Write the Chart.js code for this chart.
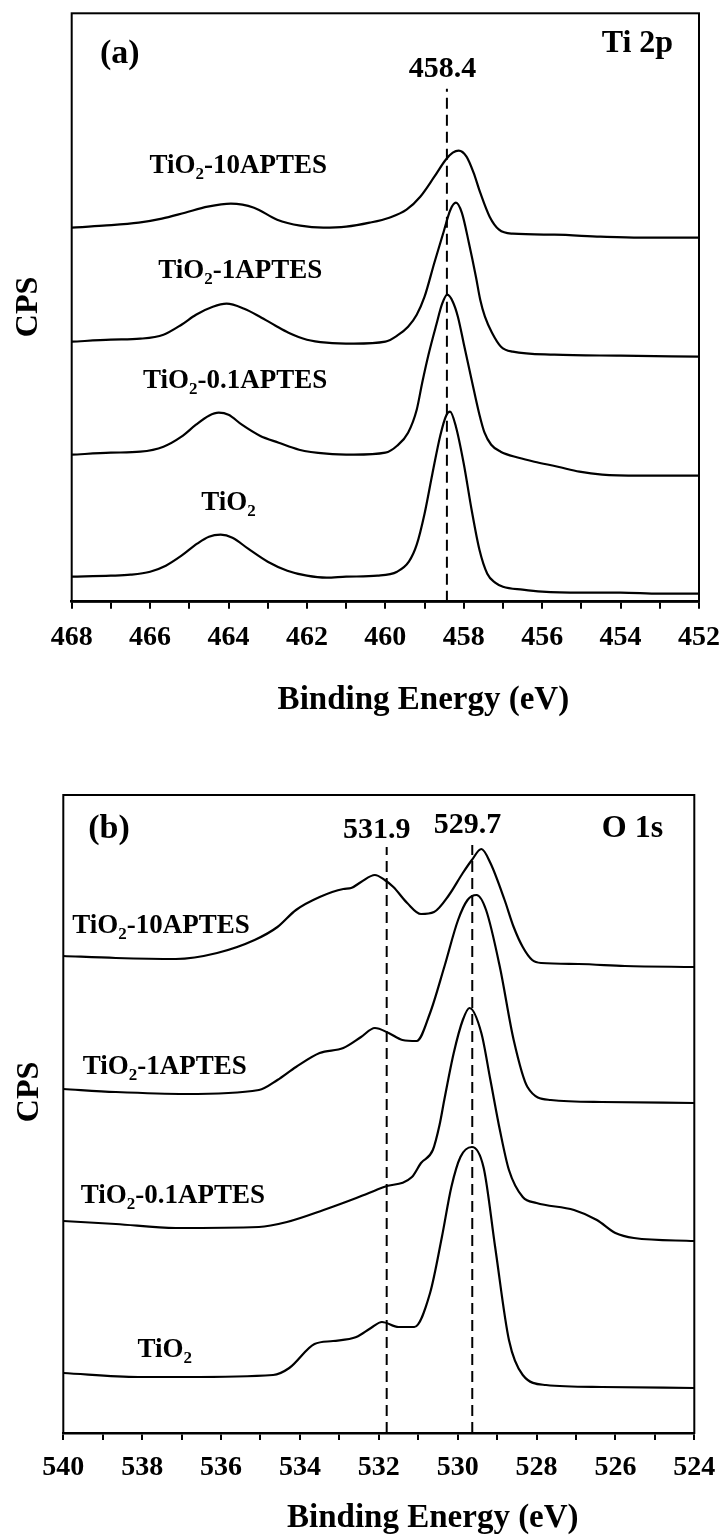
<!DOCTYPE html>
<html><head><meta charset="utf-8">
<script src="https://cdn.jsdelivr.net/npm/chart.js@4.4.0/dist/chart.umd.min.js"></script>
<style>
html,body{margin:0;padding:0;background:#fff;}
#wrapA{position:absolute;left:0;top:0;width:724px;height:740px;}
#wrapB{position:absolute;left:0;top:740px;width:724px;height:799px;}
</style></head><body>
<div id="wrapA"><canvas id="cA"></canvas></div>
<div id="wrapB"><canvas id="cB"></canvas></div>
<script>
// ---------------- DATA: panel (a) Ti 2p ----------------
const seriesNames = ['TiO₂', 'TiO₂-0.1APTES', 'TiO₂-1APTES', 'TiO₂-10APTES'];

const tiA_TiO2_eV  = [468, 467, 466.5, 466.0, 465.6, 465.2, 464.8, 464.5, 464.2, 463.9, 463.5, 463.0, 462.5, 462.0, 461.5, 461.0, 460.2, 459.7, 459.4, 459.2, 459.0, 458.8, 458.6, 458.45, 458.35, 458.2, 458.0, 457.8, 457.6, 457.4, 457.2, 457.0, 456.5, 456.0, 455.0, 454.0, 453.0, 452.0];
const tiA_TiO2_cps = [25, 26, 27, 30, 36, 46, 58, 65, 67, 64, 53, 40, 31, 26, 24, 25, 26, 30, 40, 57, 88, 128, 166, 186, 190, 175, 138, 92, 52, 28, 19, 15, 12, 10, 9, 9, 8, 8];

const tiA_01_eV  = [468, 467, 466.25, 465.66, 465.2, 464.83, 464.5, 464.25, 464.0, 463.66, 463.2, 462.72, 462.2, 461.5, 460.8, 460.0, 459.7, 459.42, 459.2, 459.06, 458.9, 458.7, 458.55, 458.42, 458.28, 458.15, 458.0, 457.8, 457.6, 457.47, 457.3, 457.06, 456.6, 456.2, 455.6, 455.05, 454.47, 453.5, 452];
const tiA_01_cps = [147, 149, 150, 155, 165, 177, 186, 189, 187, 177, 166, 159, 152, 148, 147, 149, 156, 169, 192, 219, 247, 277, 298, 307, 300, 285, 258, 222, 187, 169, 157, 150, 144, 140, 135, 130, 127, 126, 126];

const tiA_1_eV  = [468, 467, 466.25, 465.66, 465.2, 464.83, 464.4, 464.05, 463.6, 463.2, 462.8, 462.47, 462.0, 461.5, 460.8, 460.0, 459.7, 459.42, 459.2, 459.0, 458.75, 458.52, 458.34, 458.2, 458.05, 457.87, 457.69, 457.58, 457.46, 457.28, 457.05, 456.75, 455.69, 454.0, 452];
const tiA_1_cps = [260, 262, 263, 267, 277, 287, 295, 298, 293, 285, 276, 269, 262, 259, 258, 260, 266, 275, 287, 305, 339, 369, 392, 399, 389, 359, 325, 302, 285, 269, 255, 250, 247, 246, 245];

const tiA_10_eV  = [468, 467.2, 466.29, 465.7, 465.11, 464.53, 463.94, 463.35, 462.76, 462.17, 461.58, 461.0, 460.4, 459.9, 459.46, 459.11, 458.75, 458.46, 458.28, 458.13, 457.93, 457.75, 457.58, 457.34, 457.1, 456.75, 455.69, 454.51, 453.5, 452];
const tiA_10_cps = [374, 376, 379, 383, 389, 395, 398, 394, 382, 376, 374, 375, 379, 384, 392, 405, 425, 442, 449, 451, 445, 429, 409, 385, 372, 368, 367, 365, 364, 364];

const peakLinesA  = [458.43];
const peakLabelsA = ['458.4'];

// ---------------- DATA: panel (b) O 1s ----------------
const oB_TiO2_eV  = [540, 538.1, 536.9, 534.68, 534.27, 533.63, 533.16, 532.57, 532.2, 531.92, 531.5, 531.1, 530.7, 530.4, 530.16, 529.93, 529.64, 529.34, 529.05, 528.7, 528.35, 527.76, 526.35, 524];
const oB_TiO2_cps = [60, 56, 56, 58, 65, 89, 92, 96, 105, 111, 106, 106, 140, 196, 246, 276, 286, 265, 186, 93, 58, 48, 46, 45];

const oB_01_eV  = [540, 538.67, 537.15, 535.04, 534.33, 533.4, 532.57, 531.87, 531.16, 530.93, 530.63, 530.46, 530.34, 530.1, 529.87, 529.7, 529.4, 529.17, 528.93, 528.7, 528.35, 528.0, 527.05, 526.47, 526.0, 525.53, 524];
const oB_01_cps = [212, 209, 205, 206, 211, 223, 235, 246, 256, 270, 283, 308, 333, 380, 413, 425, 400, 353, 303, 263, 236, 230, 223, 213, 200, 195, 192];

const oB_1_eV  = [540, 538.67, 536.9, 535.04, 534.57, 534.1, 533.5, 532.9, 532.45, 532.1, 531.75, 531.4, 531.04, 530.7, 530.34, 529.99, 529.75, 529.52, 529.28, 528.93, 528.58, 528.23, 527.64, 526.35, 524];
const oB_1_cps = [344, 341, 339, 343, 353, 366, 380, 385, 396, 405, 400, 393, 392, 420, 466, 513, 533, 538, 523, 466, 393, 346, 333, 331, 330];

const oB_10_eV  = [540, 538.67, 537.15, 536.1, 535.15, 534.57, 534.1, 533.5, 532.9, 532.7, 532.45, 532.1, 531.85, 531.63, 531.28, 530.93, 530.6, 530.22, 529.87, 529.64, 529.4, 529.17, 528.81, 528.58, 528.35, 528.11, 527.88, 526.94, 525.76, 524];
const oB_10_cps = [477, 475, 474, 480, 493, 506, 523, 536, 544, 545, 551, 558, 553, 546, 530, 519, 521, 538, 560, 573, 584, 570, 533, 506, 486, 473, 470, 469, 467, 466];

const peakLinesB  = [531.8, 529.63];
const peakLabelsB = ['531.9', '529.7'];

const xTicksA = {min: 452, max: 468};
const xTicksB = {min: 524, max: 540};

// ---------------- RENDERING ----------------
const FONT = '"Liberation Serif", "Times New Roman", serif';

function toPts(xs, ys) { return xs.map((x, i) => ({x: x, y: ys[i]})); }

function richText(ctx, text, x, y, size, align, rotate) {
  const parts = [];
  const segs = text.split('₂');
  segs.forEach((p, i) => {
    if (p) parts.push({t: p, sub: false});
    if (i < segs.length - 1) parts.push({t: '2', sub: true});
  });
  const subSize = Math.round(size * 0.64);
  let total = 0;
  parts.forEach(p => {
    ctx.font = 'bold ' + (p.sub ? subSize : size) + 'px ' + FONT;
    p.w = ctx.measureText(p.t).width;
    total += p.w;
  });
  ctx.save();
  ctx.translate(x, y);
  if (rotate) ctx.rotate(rotate);
  let cx = align === 'center' ? -total / 2 : (align === 'right' ? -total : 0);
  ctx.textAlign = 'left';
  ctx.textBaseline = 'alphabetic';
  ctx.fillStyle = '#000';
  parts.forEach(p => {
    ctx.font = 'bold ' + (p.sub ? subSize : size) + 'px ' + FONT;
    ctx.fillText(p.t, cx, p.sub ? size * 0.24 : 0);
    cx += p.w;
  });
  ctx.restore();
}

const decoPlugin = {
  id: 'deco',
  afterDraw(chart, args, opts) {
    const ctx = chart.ctx;
    const a = chart.chartArea;
    const xs = chart.scales.x, ys = chart.scales.y;
    ctx.save();
    ctx.strokeStyle = '#000';
    ctx.lineWidth = 2;
    ctx.strokeRect(a.left, a.top, a.right - a.left, a.bottom - a.top);
    (opts.texts || []).forEach(t => {
      richText(ctx, t.text, xs.getPixelForValue(t.x), ys.getPixelForValue(t.v), t.size, t.align);
    });
    if (opts.xTitle) {
      const t = opts.xTitle;
      richText(ctx, t.text, xs.getPixelForValue(t.x), a.bottom + t.offset, t.size, 'center');
    }
    if (opts.yTitle) {
      const t = opts.yTitle;
      richText(ctx, t.text, t.px + t.size * 0.33, ys.getPixelForValue(t.v), t.size, 'center', -Math.PI / 2);
    }
    ctx.restore();
  }
};

function makeChart(id, cfg) {
  const curveSets = cfg.curves.map(c => ({
    data: toPts(c[0], c[1]),
    borderColor: '#000', borderWidth: 2.2, pointRadius: 0,
    cubicInterpolationMode: 'monotone', fill: false
  }));
  const lineSets = cfg.peaks.map((px, i) => ({
    data: [{x: px, y: 0}, {x: px, y: cfg.peakTop[i]}],
    borderColor: '#000', borderWidth: 2, borderDash: [11, 6], pointRadius: 0, tension: 0, fill: false
  }));
  return new Chart(document.getElementById(id), {
    type: 'line',
    data: {datasets: lineSets.concat(curveSets)},
    plugins: [decoPlugin],
    options: {
      responsive: true, maintainAspectRatio: false, animation: false, devicePixelRatio: 1,
      layout: {padding: cfg.padding},
      plugins: {legend: {display: false}, tooltip: {enabled: false}, deco: cfg.deco},
      scales: {
        x: {
          type: 'linear', min: cfg.xr.min, max: cfg.xr.max, reverse: true,
          afterFit: s => { s.height = cfg.axisH; s.paddingLeft = 0; s.paddingRight = 0; },
          ticks: {
            stepSize: 1, autoSkip: false, maxRotation: 0, minRotation: 0, padding: cfg.tickPad,
            color: '#000', font: {family: FONT, size: 28, weight: 'bold'},
            callback: v => (Math.round(v) % 2 === 0 ? String(Math.round(v)) : '')
          },
          grid: {display: true, drawOnChartArea: false, drawTicks: true, tickLength: 7, color: '#000', lineWidth: 2},
          border: {display: true, color: '#000', width: 2.5}
        },
        y: {display: false, min: 0, max: cfg.yMax}
      }
    }
  });
}

makeChart('cA', {
  xr: xTicksA, yMax: 588.4, axisH: 138.3, tickPad: 12,
  padding: {left: 71.7, top: 13.3, right: 25, bottom: 0},
  curves: [[tiA_TiO2_eV, tiA_TiO2_cps], [tiA_01_eV, tiA_01_cps], [tiA_1_eV, tiA_1_cps], [tiA_10_eV, tiA_10_cps]],
  peaks: peakLinesA, peakTop: [513],
  deco: {
    texts: [
      {text: '(a)', x: 467.28, v: 538.7, size: 34, align: 'left'},
      {text: 'Ti 2p', x: 452.66, v: 549.7, size: 32, align: 'right'},
      {text: peakLabelsA[0], x: 458.54, v: 524.7, size: 30, align: 'center'},
      {text: seriesNames[3], x: 463.75, v: 428.7, size: 27, align: 'center'},
      {text: seriesNames[2], x: 463.7, v: 323.7, size: 27, align: 'center'},
      {text: seriesNames[1], x: 463.83, v: 213.7, size: 27, align: 'center'},
      {text: seriesNames[0], x: 464.0, v: 91.7, size: 27, align: 'center'}
    ],
    xTitle: {text: 'Binding Energy (eV)', x: 459.03, offset: 107, size: 33},
    yTitle: {text: 'CPS', px: 26, v: 294.7, size: 32}
  }
});

makeChart('cB', {
  xr: xTicksB, yMax: 638, axisH: 106, tickPad: 10.75,
  padding: {left: 63.3, top: 55, right: 29.7, bottom: 0},
  curves: [[oB_TiO2_eV, oB_TiO2_cps], [oB_01_eV, oB_01_cps], [oB_1_eV, oB_1_cps], [oB_10_eV, oB_10_cps]],
  peaks: peakLinesB, peakTop: [586, 588],
  deco: {
    texts: [
      {text: '(b)', x: 539.37, v: 595, size: 34, align: 'left'},
      {text: peakLabelsB[0], x: 532.05, v: 595, size: 30, align: 'center'},
      {text: peakLabelsB[1], x: 529.75, v: 600, size: 30, align: 'center'},
      {text: 'O 1s', x: 524.79, v: 596, size: 32, align: 'right'},
      {text: seriesNames[3], x: 537.52, v: 500, size: 27, align: 'center'},
      {text: seriesNames[2], x: 537.43, v: 359, size: 27, align: 'center'},
      {text: seriesNames[1], x: 537.22, v: 230, size: 27, align: 'center'},
      {text: seriesNames[0], x: 537.43, v: 76, size: 27, align: 'center'}
    ],
    xTitle: {text: 'Binding Energy (eV)', x: 530.63, offset: 94, size: 33},
    yTitle: {text: 'CPS', px: 27, v: 341, size: 32}
  }
});
</script>
</body></html>
